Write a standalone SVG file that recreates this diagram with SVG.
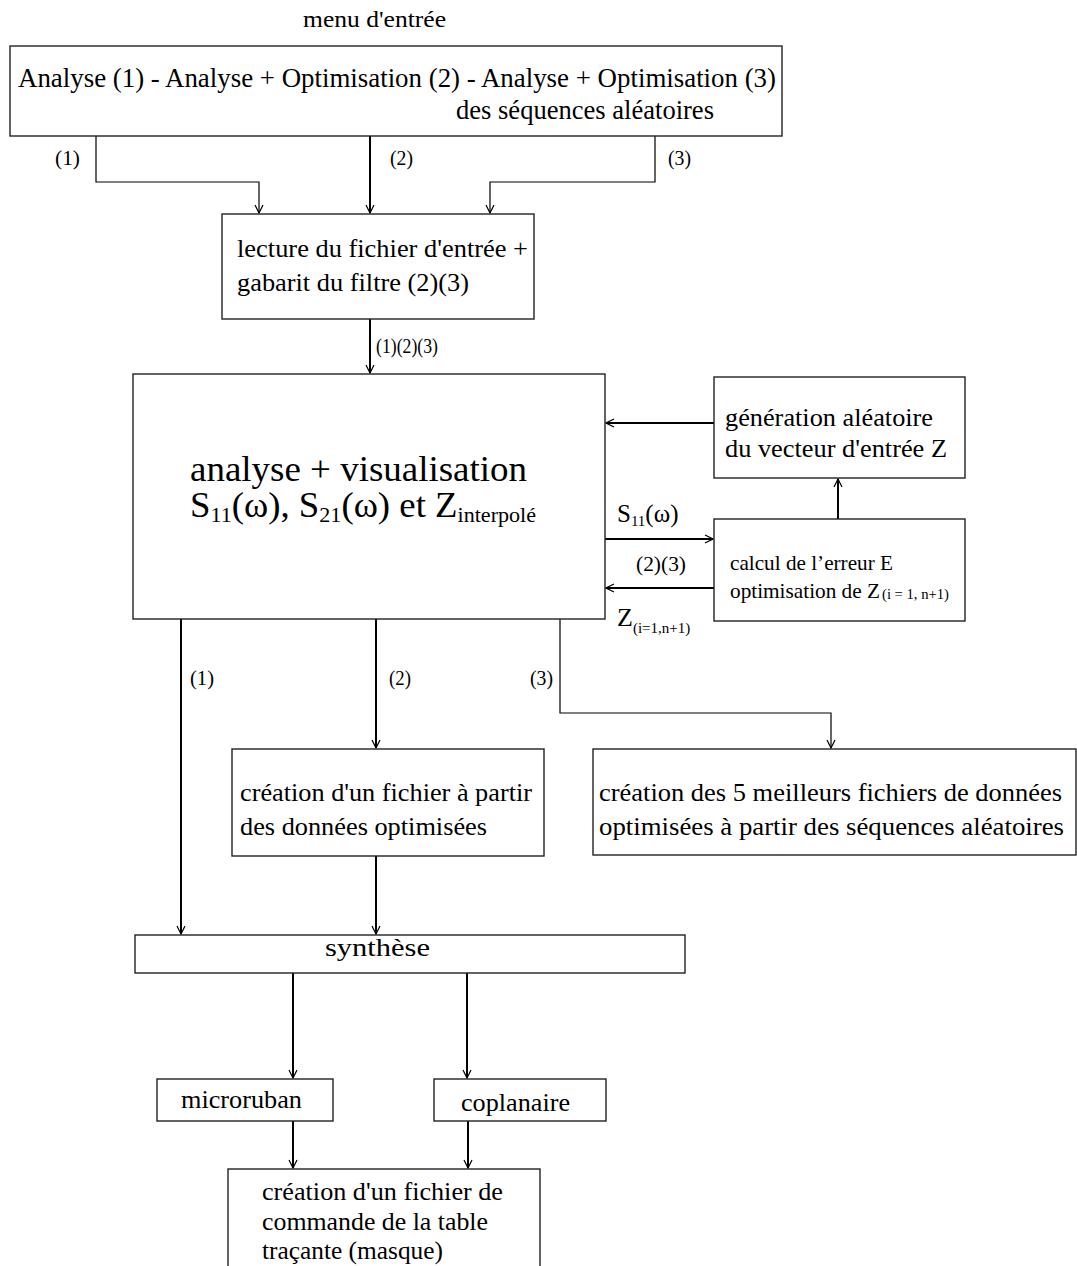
<svg xmlns="http://www.w3.org/2000/svg" width="1077" height="1266" viewBox="0 0 1077 1266">
<style>
text{font-family:"Liberation Serif","Times New Roman",serif;fill:#000}
.box{fill:#fff;stroke:#222;stroke-width:1.4}
.c{fill:none;stroke:#000;stroke-width:2}
.t{fill:none;stroke:#000;stroke-width:1.2}
.lbl{font-size:20px}
.n{font-size:26px}
</style>
<defs>
<marker id="ah" markerUnits="userSpaceOnUse" markerWidth="10" markerHeight="10" refX="9" refY="5" orient="auto">
<path d="M1,1 L9,5 L1,9" fill="none" stroke="#000" stroke-width="1.2"/>
</marker>
</defs>
<rect width="1077" height="1266" fill="#fff"/>
<text x="303" y="27" font-size="23" textLength="143" lengthAdjust="spacingAndGlyphs">menu d'entrée</text>

<g id="connectors">
<polyline class="t" points="96,136 96,182 259,182 259,213" marker-end="url(#ah)"/>
<line class="c" x1="370" y1="136" x2="370" y2="213" marker-end="url(#ah)"/>
<polyline class="t" points="655,136 655,182 490,182 490,213" marker-end="url(#ah)"/>
<line class="c" x1="370" y1="319" x2="370" y2="373" marker-end="url(#ah)"/>
<line class="c" x1="714" y1="423" x2="606" y2="423" marker-end="url(#ah)"/>
<line class="c" x1="838" y1="519" x2="838" y2="479" marker-end="url(#ah)"/>
<line class="c" x1="605" y1="539" x2="713" y2="539" marker-end="url(#ah)"/>
<line class="c" x1="714" y1="588" x2="606" y2="588" marker-end="url(#ah)"/>
<line class="c" x1="181" y1="619" x2="181" y2="934" marker-end="url(#ah)"/>
<line class="c" x1="376" y1="619" x2="376" y2="748" marker-end="url(#ah)"/>
<polyline class="t" points="560,619 560,713 831,713 831,748" marker-end="url(#ah)"/>
<line class="c" x1="376" y1="856" x2="376" y2="934" marker-end="url(#ah)"/>
<line class="c" x1="293" y1="973" x2="293" y2="1078" marker-end="url(#ah)"/>
<line class="c" x1="467" y1="973" x2="467" y2="1078" marker-end="url(#ah)"/>
<line class="c" x1="293" y1="1121" x2="293" y2="1168" marker-end="url(#ah)"/>
<line class="c" x1="468" y1="1121" x2="468" y2="1168" marker-end="url(#ah)"/>
<text class="lbl" x="55" y="165" textLength="25" lengthAdjust="spacingAndGlyphs">(1)</text>
<text class="lbl" x="390" y="165" textLength="23" lengthAdjust="spacingAndGlyphs">(2)</text>
<text class="lbl" x="668" y="165" textLength="23" lengthAdjust="spacingAndGlyphs">(3)</text>
<text class="lbl" x="376" y="353" textLength="62" lengthAdjust="spacingAndGlyphs">(1)(2)(3)</text>
<text x="617" y="522" font-size="25">S<tspan font-size="15" dy="4">11</tspan><tspan dy="-4">(ω)</tspan></text>
<text class="lbl" x="636" y="571" textLength="50" lengthAdjust="spacingAndGlyphs">(2)(3)</text>
<text x="617" y="626" font-size="26">Z<tspan font-size="15" dy="7">(i=1,n+1)</tspan></text>
<text class="lbl" x="190" y="685" textLength="24" lengthAdjust="spacingAndGlyphs">(1)</text>
<text class="lbl" x="389" y="685" textLength="22" lengthAdjust="spacingAndGlyphs">(2)</text>
<text class="lbl" x="530" y="685" textLength="23" lengthAdjust="spacingAndGlyphs">(3)</text>
</g>

<g id="menu">
<rect class="box" x="10" y="46" width="772" height="90"/>
<text x="18" y="87" font-size="28" textLength="758" lengthAdjust="spacingAndGlyphs">Analyse (1) - Analyse + Optimisation (2) - Analyse + Optimisation  (3)</text>
<text x="456" y="119" font-size="28" textLength="258" lengthAdjust="spacingAndGlyphs">des séquences aléatoires</text>
</g>

<g id="lecture">
<rect class="box" x="222" y="214" width="312" height="105"/>
<text class="n" x="237" y="257" textLength="291" lengthAdjust="spacingAndGlyphs">lecture du fichier d'entrée +</text>
<text class="n" x="237" y="291" textLength="232" lengthAdjust="spacingAndGlyphs">gabarit du filtre (2)(3)</text>
</g>

<g id="analyse">
<rect class="box" x="133" y="374" width="472" height="245"/>
<text x="190" y="481" font-size="35" textLength="337" lengthAdjust="spacingAndGlyphs">analyse + visualisation</text>
<text x="190" y="517" font-size="35" textLength="346" lengthAdjust="spacingAndGlyphs">S<tspan font-size="21" dy="5">11</tspan><tspan dy="-5">(ω), S</tspan><tspan font-size="21" dy="5">21</tspan><tspan dy="-5">(ω) et Z</tspan><tspan font-size="21" dy="5">interpolé</tspan></text>
</g>

<g id="generation">
<rect class="box" x="714" y="377" width="251" height="101"/>
<text class="n" x="725" y="426" textLength="208" lengthAdjust="spacingAndGlyphs">génération aléatoire</text>
<text class="n" x="725" y="457" textLength="222" lengthAdjust="spacingAndGlyphs">du vecteur d'entrée Z</text>
</g>

<g id="calcul">
<rect class="box" x="714" y="519" width="251" height="102"/>
<text x="730" y="570" font-size="21" textLength="163" lengthAdjust="spacingAndGlyphs">calcul de l’erreur E</text>
<text x="730" y="598" font-size="21" textLength="150" lengthAdjust="spacingAndGlyphs">optimisation de Z</text>
<text x="882" y="599" font-size="14" textLength="67" lengthAdjust="spacingAndGlyphs">(i = 1, n+1)</text>
</g>

<g id="fichier-optimise">
<rect class="box" x="232" y="749" width="312" height="107"/>
<text class="n" x="240" y="801" textLength="292" lengthAdjust="spacingAndGlyphs">création d'un fichier à partir</text>
<text class="n" x="240" y="835" textLength="247" lengthAdjust="spacingAndGlyphs">des données optimisées</text>
</g>

<g id="meilleurs">
<rect class="box" x="593" y="749" width="483" height="106"/>
<text class="n" x="599" y="801" textLength="463" lengthAdjust="spacingAndGlyphs">création des 5 meilleurs fichiers de données</text>
<text class="n" x="599" y="835" textLength="465" lengthAdjust="spacingAndGlyphs">optimisées à partir des séquences aléatoires</text>
</g>

<g id="synthese">
<rect class="box" x="135" y="935" width="550" height="38"/>
<text class="n" x="325" y="956" textLength="105" lengthAdjust="spacingAndGlyphs">synthèse</text>
</g>

<g id="microruban">
<rect class="box" x="157" y="1079" width="176" height="42"/>
<text class="n" x="181" y="1108" textLength="121" lengthAdjust="spacingAndGlyphs">microruban</text>
</g>

<g id="coplanaire">
<rect class="box" x="434" y="1079" width="172" height="42"/>
<text class="n" x="461" y="1111" textLength="109" lengthAdjust="spacingAndGlyphs">coplanaire</text>
</g>

<g id="masque">
<rect class="box" x="228" y="1169" width="312" height="110"/>
<text class="n" x="262" y="1200" textLength="241" lengthAdjust="spacingAndGlyphs">création d'un fichier de</text>
<text class="n" x="262" y="1230" textLength="226" lengthAdjust="spacingAndGlyphs">commande de la table</text>
<text class="n" x="262" y="1259" textLength="181" lengthAdjust="spacingAndGlyphs">traçante (masque)</text>
</g>
</svg>
